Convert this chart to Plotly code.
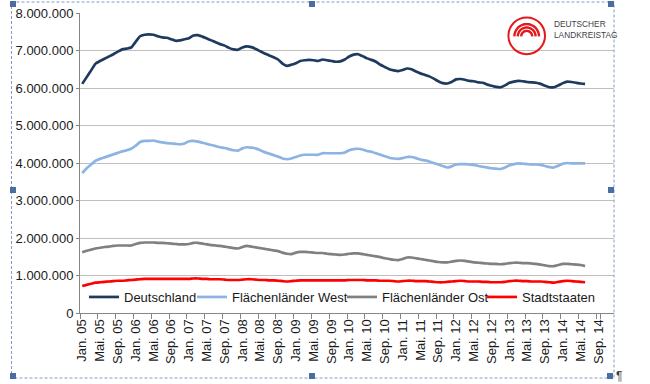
import math
import plotly.graph_objects as go

# ---------------- data ----------------
month_abbr = ["Jan.", "Feb.", "Mär.", "Apr.", "Mai.", "Jun.", "Jul.", "Aug.", "Sep.", "Okt.", "Nov.", "Dez."]
years = ["05", "06", "07", "08", "09", "10", "11", "12", "13", "14"]
categories = [f"{m} {y}" for y in years for m in month_abbr]  # Jan. 05 .. Dez. 14

tick_labels = ["Jan. 05", "Mai. 05", "Sep. 05", "Jan. 06", "Mai. 06", "Sep. 06",
               "Jan. 07", "Mai. 07", "Sep. 07", "Jan. 08", "Mai. 08", "Sep. 08",
               "Jan. 09", "Mai. 09", "Sep. 09", "Jan. 10", "Mai. 10", "Sep. 10",
               "Jan. 11", "Mai. 11", "Sep. 11", "Jan. 12", "Mai. 12", "Sep. 12",
               "Jan. 13", "Mai. 13", "Sep. 13", "Jan. 14", "Mai. 14", "Sep. 14"]

deutschland = [
    6110000, 6290000, 6470000, 6650000, 6720000, 6780000, 6840000, 6900000, 6970000, 7030000, 7050000, 7080000,
    7230000, 7380000, 7420000, 7430000, 7420000, 7380000, 7350000, 7340000, 7300000, 7260000, 7270000, 7300000,
    7330000, 7400000, 7410000, 7370000, 7320000, 7270000, 7220000, 7170000, 7130000, 7070000, 7030000, 7020000,
    7080000, 7110000, 7090000, 7040000, 6980000, 6920000, 6870000, 6820000, 6760000, 6650000, 6590000, 6620000,
    6660000, 6720000, 6740000, 6750000, 6740000, 6720000, 6760000, 6740000, 6720000, 6700000, 6710000, 6760000,
    6840000, 6890000, 6900000, 6850000, 6790000, 6750000, 6700000, 6620000, 6560000, 6500000, 6470000, 6450000,
    6480000, 6520000, 6500000, 6440000, 6390000, 6350000, 6310000, 6250000, 6180000, 6130000, 6120000, 6160000,
    6230000, 6240000, 6220000, 6190000, 6180000, 6150000, 6140000, 6090000, 6060000, 6030000, 6020000, 6070000,
    6140000, 6170000, 6190000, 6180000, 6160000, 6150000, 6140000, 6110000, 6060000, 6020000, 6020000, 6070000,
    6130000, 6170000, 6160000, 6140000, 6120000, 6110000,
]

flaechen_west = [
    3730000, 3860000, 3960000, 4060000, 4110000, 4150000, 4190000, 4230000, 4270000, 4310000, 4340000, 4380000,
    4460000, 4560000, 4590000, 4590000, 4600000, 4570000, 4550000, 4530000, 4520000, 4510000, 4500000, 4520000,
    4580000, 4590000, 4570000, 4540000, 4510000, 4480000, 4450000, 4420000, 4400000, 4370000, 4340000, 4330000,
    4390000, 4420000, 4410000, 4390000, 4340000, 4290000, 4250000, 4210000, 4170000, 4120000, 4100000, 4120000,
    4160000, 4200000, 4220000, 4220000, 4220000, 4220000, 4260000, 4260000, 4260000, 4260000, 4260000, 4280000,
    4340000, 4370000, 4380000, 4360000, 4320000, 4300000, 4260000, 4220000, 4180000, 4140000, 4120000, 4110000,
    4130000, 4160000, 4160000, 4130000, 4090000, 4070000, 4040000, 4000000, 3960000, 3920000, 3880000, 3910000,
    3960000, 3970000, 3970000, 3960000, 3950000, 3920000, 3900000, 3880000, 3860000, 3850000, 3840000, 3880000,
    3940000, 3970000, 3990000, 3980000, 3970000, 3960000, 3960000, 3950000, 3920000, 3890000, 3880000, 3930000,
    3980000, 4000000, 3990000, 3990000, 3990000, 3990000,
]

flaechen_ost = [
    1620000, 1660000, 1690000, 1720000, 1740000, 1760000, 1770000, 1790000, 1800000, 1800000, 1800000, 1800000,
    1840000, 1870000, 1880000, 1880000, 1880000, 1870000, 1870000, 1860000, 1850000, 1840000, 1830000, 1830000,
    1840000, 1870000, 1870000, 1850000, 1830000, 1810000, 1800000, 1790000, 1770000, 1750000, 1730000, 1720000,
    1760000, 1790000, 1770000, 1750000, 1730000, 1710000, 1690000, 1670000, 1650000, 1610000, 1580000, 1570000,
    1610000, 1630000, 1630000, 1620000, 1610000, 1600000, 1600000, 1580000, 1570000, 1560000, 1550000, 1560000,
    1580000, 1590000, 1590000, 1570000, 1550000, 1530000, 1510000, 1490000, 1460000, 1440000, 1420000, 1410000,
    1440000, 1480000, 1480000, 1460000, 1440000, 1420000, 1400000, 1380000, 1360000, 1350000, 1350000, 1370000,
    1390000, 1400000, 1390000, 1370000, 1350000, 1340000, 1330000, 1320000, 1310000, 1310000, 1300000, 1310000,
    1330000, 1340000, 1340000, 1330000, 1330000, 1320000, 1310000, 1290000, 1270000, 1250000, 1250000, 1280000,
    1310000, 1310000, 1300000, 1290000, 1280000, 1250000,
]

stadtstaaten = [
    720000, 750000, 780000, 810000, 820000, 830000, 840000, 850000, 860000, 860000, 870000, 880000,
    890000, 900000, 910000, 910000, 910000, 910000, 910000, 910000, 910000, 910000, 910000, 910000,
    910000, 920000, 920000, 910000, 910000, 900000, 900000, 900000, 890000, 880000, 880000, 880000,
    890000, 900000, 900000, 890000, 880000, 880000, 870000, 870000, 860000, 850000, 840000, 850000,
    860000, 870000, 870000, 870000, 870000, 870000, 870000, 870000, 870000, 870000, 870000, 870000,
    880000, 880000, 880000, 880000, 870000, 870000, 870000, 860000, 860000, 860000, 850000, 840000,
    850000, 860000, 860000, 850000, 850000, 850000, 840000, 830000, 820000, 820000, 830000, 840000,
    850000, 860000, 850000, 840000, 840000, 840000, 830000, 830000, 820000, 820000, 820000, 830000,
    850000, 860000, 860000, 850000, 850000, 840000, 840000, 840000, 830000, 820000, 810000, 830000,
    850000, 860000, 850000, 840000, 830000, 820000,
]

series = [
    ("Deutschland", deutschland, "#1F3A5F"),
    ("Flächenländer West", flaechen_west, "#8DB3E2"),
    ("Flächenländer Ost", flaechen_ost, "#808080"),
    ("Stadtstaaten", stadtstaaten, "#FF0000"),
]

# ---------------- layout geometry (pixels) ----------------
W, H = 650, 384
L, R, T, B = 80, 614, 13, 313


def px(x):
    return (x - L) / (R - L)


def py(y):
    return (B - y) / (B - T)


FONT = "Arial, 'Liberation Sans', sans-serif"
TXT = "#1A1A1A"

legend_names = ["legend", "legend2", "legend3", "legend4"]
legend_text_x = [124, 232, 382, 522]  # pixel x where each legend text begins

fig = go.Figure()
for (name, vals, col), lg in zip(series, legend_names):
    fig.add_trace(go.Scatter(
        x=categories[:len(vals)], y=vals, name=name, mode="lines", legend=lg,
        line=dict(color=col, width=2.7, shape="spline", smoothing=0.5),
    ))

legend_layout = {}
for lg, tx in zip(legend_names, legend_text_x):
    legend_layout[lg] = dict(
        orientation="h", x=px(tx - 40), y=py(297), xanchor="left", yanchor="middle",
        bgcolor="rgba(0,0,0,0)", borderwidth=0, itemwidth=30,
        font=dict(family=FONT, size=13, color=TXT),
    )

shapes = []
# Logo: red circle with three arcs
cx, cy = 526.7, 35.8
shapes.append(dict(type="circle", xref="paper", yref="paper",
                   x0=px(cx - 18.3), x1=px(cx + 18.3), y0=py(cy + 18.4), y1=py(cy - 18.4),
                   line=dict(color="#E3191B", width=2)))
for r in (12.3, 8.9, 5.5):
    pts = []
    for k in range(0, 37):
        t = math.pi * k / 36
        pts.append((px(cx + r * math.cos(t)), py(cy + 0.6 - r * math.sin(t))))
    path = "M " + " L ".join(f"{a:.5f},{b:.5f}" for a, b in pts)
    shapes.append(dict(type="path", xref="paper", yref="paper", path=path,
                       line=dict(color="#E3191B", width=2.4)))

# Word selection frame (dashed) and handles
shapes.append(dict(type="rect", xref="paper", yref="paper",
                   x0=px(11.5), x1=px(614), y0=py(2), y1=py(378),
                   line=dict(color="#7F9CC6", width=1, dash="3px,2px")))
for hx, hy in [(13, 4), (312, 4), (611, 4), (13, 190), (611, 190), (13, 376), (312, 376), (610, 376)]:
    shapes.append(dict(type="rect", xref="paper", yref="paper",
                       x0=px(hx - 3), x1=px(hx + 3), y0=py(hy + 3), y1=py(hy - 3),
                       fillcolor="#4A6EA0", line=dict(width=0)))

annotations = [
    dict(text="DEUTSCHER", xref="paper", yref="paper", x=px(552), y=py(24),
         xanchor="left", yanchor="middle", showarrow=False,
         font=dict(family=FONT, size=8.3, color="#3F3F3F")),
    dict(text="LANDKREISTAG", xref="paper", yref="paper", x=px(552), y=py(34.5),
         xanchor="left", yanchor="middle", showarrow=False,
         font=dict(family=FONT, size=8.3, color="#3F3F3F")),
    dict(text="¶", xref="paper", yref="paper", x=px(614), y=py(376),
         xanchor="left", yanchor="middle", showarrow=False,
         font=dict(family=FONT, size=12, color="#404040")),
]

fig.update_layout(
    width=W, height=H,
    margin=dict(l=L, r=W - R, t=T, b=H - B, pad=0),
    paper_bgcolor="white", plot_bgcolor="white",
    separators=",.",
    font=dict(family=FONT, size=13, color=TXT),
    showlegend=True,
    shapes=shapes,
    annotations=annotations,
    xaxis=dict(
        type="category", categoryorder="array", categoryarray=categories,
        range=[-0.5, len(categories) - 0.5], automargin=False,
        tickmode="array", tickvals=tick_labels, ticktext=tick_labels,
        tickson="boundaries", ticks="outside", ticklen=5, tickcolor="#868686",
        tickangle=-90, showgrid=False, showline=True, linecolor="#868686", linewidth=1,
        tickfont=dict(family=FONT, size=13, color=TXT), zeroline=False,
    ),
    yaxis=dict(
        range=[0, 8000000], tickmode="linear", tick0=0, dtick=1000000, automargin=False,
        tickformat=",d", showgrid=True, gridcolor="#BFBFBF", gridwidth=1,
        showline=True, linecolor="#868686", linewidth=1,
        ticks="outside", ticklen=3, tickcolor="#868686", zeroline=False,
        tickfont=dict(family=FONT, size=13, color=TXT),
    ),
    **legend_layout,
)

fig.write_html(
    "out.html",
    config={"displayModeBar": False},
    post_script="document.body.style.margin='0px';document.body.style.overflow='hidden';",
)
